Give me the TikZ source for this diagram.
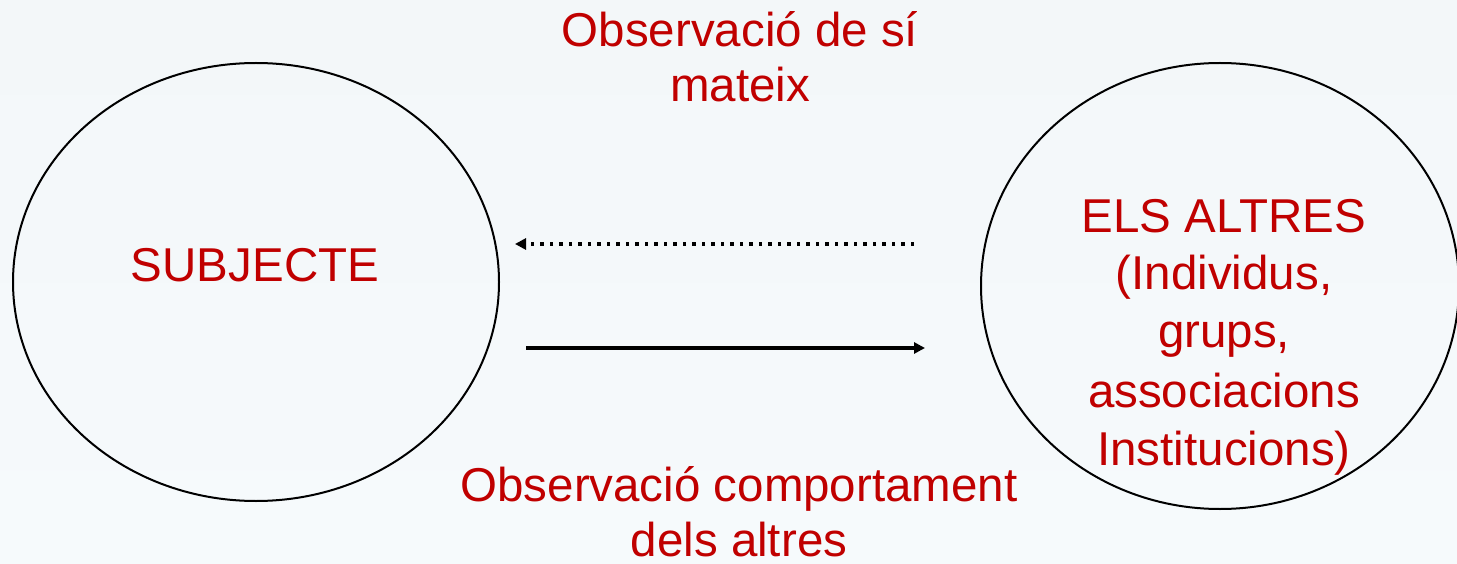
\documentclass[tikz,border=0pt]{standalone}
\usepackage{fontspec}
\setmainfont{Liberation Sans}
\usetikzlibrary{shapes.geometric,arrows.meta}
\definecolor{txtred}{RGB}{192,0,0}
\definecolor{bgtop}{RGB}{243,247,249}
\definecolor{bgbot}{RGB}{246,250,252}
\tikzset{
  lbl/.style={text=txtred, anchor=base, inner sep=0pt, font=\fontsize{47.5}{57}\selectfont},
  oval/.style={draw=black, line width=2pt, ellipse, inner sep=0pt},
  solidarrow/.style={line width=3.3pt, -{Triangle[length=11pt,width=11pt]}},
  dotarrow/.style={line width=3.3pt, dash pattern=on 3.3pt off 6.2pt, -{Triangle[length=11pt,width=11pt]}}
}
\begin{document}
\begin{tikzpicture}[x=1pt,y=-1pt]
\useasboundingbox (0,0) rectangle (1457,564);
\shade[top color=bgtop, bottom color=bgbot] (0,0) rectangle (1457,564);
\begin{scope}
\clip (0,0) rectangle (1457,564);
\node[oval, minimum width=486pt, minimum height=438pt] (subj) at (256,282) {};
\node[oval, minimum width=478pt, minimum height=446pt] (altres) at (1220,286) {};
\end{scope}
\node[lbl] (subjtxt) at (255,281) {SUBJECTE};
\node[lbl] (alt1) at (1224,233) {ELS ALTRES};
\node[lbl] (alt2) at (1224,290) {(Individus,};
\node[lbl] (alt3) at (1224,347) {grups,};
\node[lbl] (alt4) at (1224,407) {associacions};
\node[lbl] (alt5) at (1224,465) {Institucions)};
\node[lbl] (top1) at (740,47) {Observació de sí};
\node[lbl] (top2) at (740,102) {mateix};
\node[lbl] (bot1) at (739,501) {Observació comportament};
\node[lbl] (bot2) at (739,556) {dels altres};
\coordinate (dotstart) at (914,244);
\coordinate (dotend) at (515,244);
\coordinate (solstart) at (526,348);
\coordinate (solend) at (925,348);
\draw[dotarrow] (dotstart) -- (dotend);
\draw[solidarrow] (solstart) -- (solend);
\end{tikzpicture}
\end{document}
